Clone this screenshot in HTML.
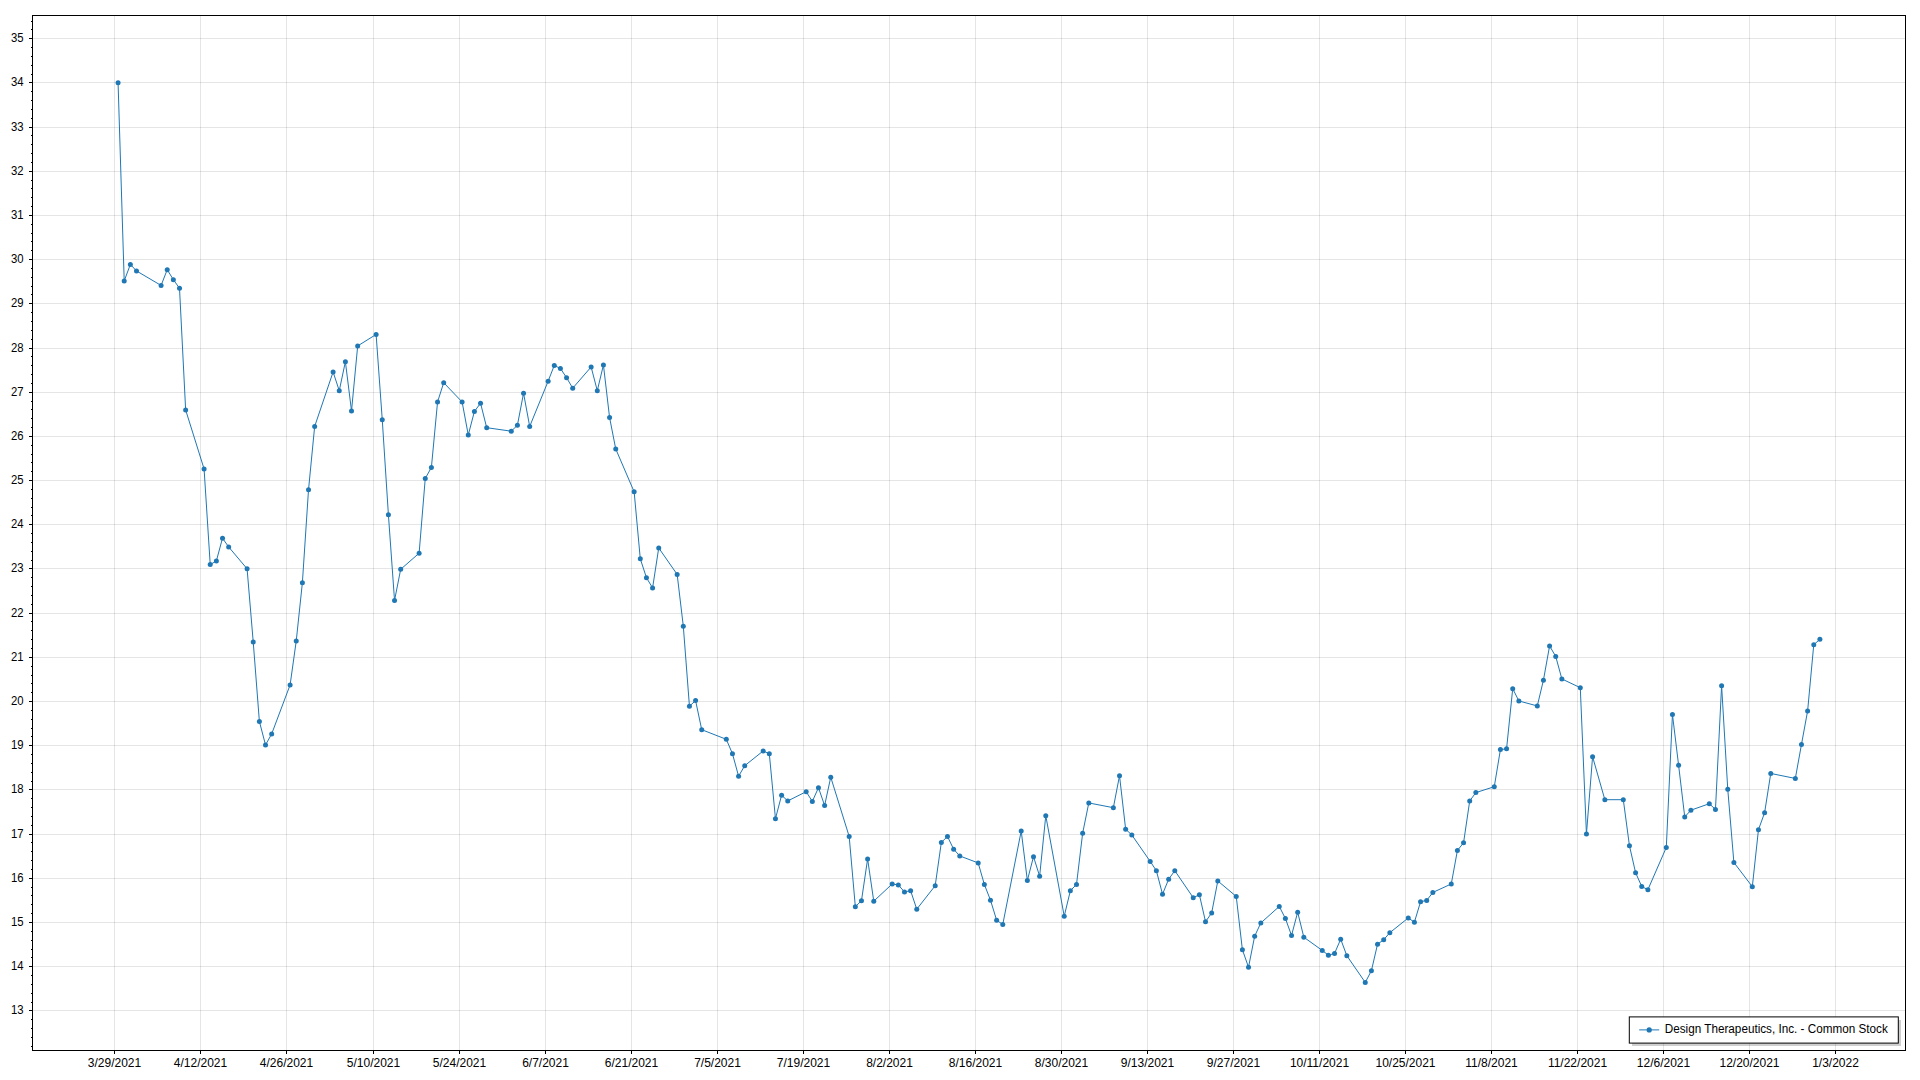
<!DOCTYPE html>
<html><head><meta charset="utf-8"><title>Design Therapeutics, Inc. - Common Stock</title>
<style>html,body{margin:0;padding:0;background:#fff;width:1920px;height:1080px;overflow:hidden}</style></head>
<body>
<svg width="1920" height="1080" viewBox="0 0 1920 1080" style="position:absolute;left:0;top:0;font-family:'Liberation Sans',sans-serif;font-size:12px">
<rect x="0" y="0" width="1920" height="1080" fill="#fff"/>
<g shape-rendering="crispEdges" fill="#000" fill-opacity="0.10">
<rect x="114" y="16" width="1" height="1034"/>
<rect x="200" y="16" width="1" height="1034"/>
<rect x="286" y="16" width="1" height="1034"/>
<rect x="373" y="16" width="1" height="1034"/>
<rect x="459" y="16" width="1" height="1034"/>
<rect x="545" y="16" width="1" height="1034"/>
<rect x="631" y="16" width="1" height="1034"/>
<rect x="717" y="16" width="1" height="1034"/>
<rect x="803" y="16" width="1" height="1034"/>
<rect x="889" y="16" width="1" height="1034"/>
<rect x="975" y="16" width="1" height="1034"/>
<rect x="1061" y="16" width="1" height="1034"/>
<rect x="1147" y="16" width="1" height="1034"/>
<rect x="1233" y="16" width="1" height="1034"/>
<rect x="1319" y="16" width="1" height="1034"/>
<rect x="1405" y="16" width="1" height="1034"/>
<rect x="1491" y="16" width="1" height="1034"/>
<rect x="1577" y="16" width="1" height="1034"/>
<rect x="1663" y="16" width="1" height="1034"/>
<rect x="1749" y="16" width="1" height="1034"/>
<rect x="1835" y="16" width="1" height="1034"/>
<rect x="33" y="1010" width="1872" height="1"/>
<rect x="33" y="966" width="1872" height="1"/>
<rect x="33" y="922" width="1872" height="1"/>
<rect x="33" y="878" width="1872" height="1"/>
<rect x="33" y="834" width="1872" height="1"/>
<rect x="33" y="789" width="1872" height="1"/>
<rect x="33" y="745" width="1872" height="1"/>
<rect x="33" y="701" width="1872" height="1"/>
<rect x="33" y="657" width="1872" height="1"/>
<rect x="33" y="613" width="1872" height="1"/>
<rect x="33" y="568" width="1872" height="1"/>
<rect x="33" y="524" width="1872" height="1"/>
<rect x="33" y="480" width="1872" height="1"/>
<rect x="33" y="436" width="1872" height="1"/>
<rect x="33" y="392" width="1872" height="1"/>
<rect x="33" y="348" width="1872" height="1"/>
<rect x="33" y="303" width="1872" height="1"/>
<rect x="33" y="259" width="1872" height="1"/>
<rect x="33" y="215" width="1872" height="1"/>
<rect x="33" y="171" width="1872" height="1"/>
<rect x="33" y="127" width="1872" height="1"/>
<rect x="33" y="82" width="1872" height="1"/>
<rect x="33" y="38" width="1872" height="1"/>
</g>
<polyline points="118.07,82.7 124.21,280.95 130.36,264.45 136.5,270.95 161.08,285.45 167.22,269.7 173.36,279.7 179.51,288.2 185.65,409.95 204.08,468.95 210.23,564.6 216.37,560.95 222.51,538.2 228.66,546.95 247.09,568.8 253.23,641.95 259.38,721.45 265.52,744.95 271.66,733.95 290.1,684.95 296.24,640.95 302.38,582.7 308.53,489.7 314.67,426.45 333.1,371.95 339.25,390.7 345.39,361.7 351.53,410.95 357.68,345.95 376.11,334.45 382.25,419.7 388.4,514.7 394.54,600.45 400.68,569.3 419.12,553.2 425.26,478.45 431.4,467.45 437.55,401.95 443.69,382.7 462.12,401.95 468.27,434.95 474.41,411.45 480.55,403.2 486.7,427.7 511.27,431.2 517.42,425.2 523.56,393.2 529.7,426.45 548.14,381.2 554.28,365.45 560.42,368.45 566.57,377.7 572.71,388.2 591.14,366.95 597.29,390.7 603.43,364.95 609.57,417.45 615.72,448.95 634.15,491.8 640.29,558.8 646.44,577.7 652.58,587.95 658.72,547.95 677.16,574.45 683.3,626.2 689.44,706.2 695.59,700.6 701.73,729.7 726.31,739.3 732.45,753.7 738.59,776.2 744.74,765.7 763.17,750.95 769.31,753.7 775.46,818.7 781.6,795.2 787.74,800.95 806.18,791.7 812.32,801.45 818.46,787.7 824.61,805.45 830.75,777.2 849.18,836.45 855.33,906.7 861.47,900.7 867.61,858.95 873.76,901.2 892.19,883.95 898.33,884.95 904.48,891.95 910.62,890.7 916.76,909.2 935.2,885.7 941.34,842.45 947.48,836.45 953.63,849.2 959.77,855.95 978.2,862.95 984.35,884.45 990.49,900.2 996.63,920.2 1002.78,924.45 1021.21,830.95 1027.35,880.45 1033.5,856.7 1039.64,876.2 1045.78,815.7 1064.22,916.2 1070.36,890.7 1076.5,884.45 1082.65,833.2 1088.79,802.95 1113.37,807.7 1119.51,775.7 1125.65,829.2 1131.8,834.95 1150.23,861.45 1156.37,870.7 1162.52,894.2 1168.66,879.2 1174.8,870.7 1193.23,897.7 1199.38,894.7 1205.52,921.7 1211.67,912.95 1217.81,880.95 1236.24,896.45 1242.39,949.7 1248.53,967.2 1254.67,936.2 1260.82,922.95 1279.25,906.45 1285.39,918.45 1291.54,935.45 1297.68,912.2 1303.82,937.2 1322.25,950.45 1328.4,955.2 1334.54,953.45 1340.69,939.2 1346.83,955.7 1365.26,982.45 1371.41,970.7 1377.55,944.2 1383.69,939.7 1389.84,932.7 1408.27,917.95 1414.41,922.2 1420.56,901.7 1426.7,900.45 1432.84,892.45 1451.27,883.95 1457.42,850.45 1463.56,842.8 1469.71,800.95 1475.85,792.6 1494.28,786.7 1500.42,749.6 1506.57,748.8 1512.71,688.7 1518.86,700.95 1537.29,705.95 1543.43,680.2 1549.58,645.95 1555.72,656.45 1561.86,678.95 1580.29,687.7 1586.44,834.1 1592.58,756.7 1604.87,799.7 1623.3,799.7 1629.44,845.7 1635.59,872.7 1641.73,886.45 1647.88,889.7 1666.31,847.45 1672.45,714.45 1678.6,765.2 1684.74,816.95 1690.88,810.2 1709.31,803.7 1715.46,809.45 1721.6,685.7 1727.75,789.2 1733.89,862.45 1752.32,886.7 1758.46,829.7 1764.61,812.7 1770.75,773.45 1795.33,778.45 1801.47,744.45 1807.61,710.95 1813.76,644.7 1819.9,639.3" fill="none" stroke="#1f77b4" stroke-width="1" stroke-linejoin="round"/>
<g fill="#1f77b4">
<circle cx="118.07" cy="82.7" r="2.5"/>
<circle cx="124.21" cy="280.95" r="2.5"/>
<circle cx="130.36" cy="264.45" r="2.5"/>
<circle cx="136.5" cy="270.95" r="2.5"/>
<circle cx="161.08" cy="285.45" r="2.5"/>
<circle cx="167.22" cy="269.7" r="2.5"/>
<circle cx="173.36" cy="279.7" r="2.5"/>
<circle cx="179.51" cy="288.2" r="2.5"/>
<circle cx="185.65" cy="409.95" r="2.5"/>
<circle cx="204.08" cy="468.95" r="2.5"/>
<circle cx="210.23" cy="564.6" r="2.5"/>
<circle cx="216.37" cy="560.95" r="2.5"/>
<circle cx="222.51" cy="538.2" r="2.5"/>
<circle cx="228.66" cy="546.95" r="2.5"/>
<circle cx="247.09" cy="568.8" r="2.5"/>
<circle cx="253.23" cy="641.95" r="2.5"/>
<circle cx="259.38" cy="721.45" r="2.5"/>
<circle cx="265.52" cy="744.95" r="2.5"/>
<circle cx="271.66" cy="733.95" r="2.5"/>
<circle cx="290.1" cy="684.95" r="2.5"/>
<circle cx="296.24" cy="640.95" r="2.5"/>
<circle cx="302.38" cy="582.7" r="2.5"/>
<circle cx="308.53" cy="489.7" r="2.5"/>
<circle cx="314.67" cy="426.45" r="2.5"/>
<circle cx="333.1" cy="371.95" r="2.5"/>
<circle cx="339.25" cy="390.7" r="2.5"/>
<circle cx="345.39" cy="361.7" r="2.5"/>
<circle cx="351.53" cy="410.95" r="2.5"/>
<circle cx="357.68" cy="345.95" r="2.5"/>
<circle cx="376.11" cy="334.45" r="2.5"/>
<circle cx="382.25" cy="419.7" r="2.5"/>
<circle cx="388.4" cy="514.7" r="2.5"/>
<circle cx="394.54" cy="600.45" r="2.5"/>
<circle cx="400.68" cy="569.3" r="2.5"/>
<circle cx="419.12" cy="553.2" r="2.5"/>
<circle cx="425.26" cy="478.45" r="2.5"/>
<circle cx="431.4" cy="467.45" r="2.5"/>
<circle cx="437.55" cy="401.95" r="2.5"/>
<circle cx="443.69" cy="382.7" r="2.5"/>
<circle cx="462.12" cy="401.95" r="2.5"/>
<circle cx="468.27" cy="434.95" r="2.5"/>
<circle cx="474.41" cy="411.45" r="2.5"/>
<circle cx="480.55" cy="403.2" r="2.5"/>
<circle cx="486.7" cy="427.7" r="2.5"/>
<circle cx="511.27" cy="431.2" r="2.5"/>
<circle cx="517.42" cy="425.2" r="2.5"/>
<circle cx="523.56" cy="393.2" r="2.5"/>
<circle cx="529.7" cy="426.45" r="2.5"/>
<circle cx="548.14" cy="381.2" r="2.5"/>
<circle cx="554.28" cy="365.45" r="2.5"/>
<circle cx="560.42" cy="368.45" r="2.5"/>
<circle cx="566.57" cy="377.7" r="2.5"/>
<circle cx="572.71" cy="388.2" r="2.5"/>
<circle cx="591.14" cy="366.95" r="2.5"/>
<circle cx="597.29" cy="390.7" r="2.5"/>
<circle cx="603.43" cy="364.95" r="2.5"/>
<circle cx="609.57" cy="417.45" r="2.5"/>
<circle cx="615.72" cy="448.95" r="2.5"/>
<circle cx="634.15" cy="491.8" r="2.5"/>
<circle cx="640.29" cy="558.8" r="2.5"/>
<circle cx="646.44" cy="577.7" r="2.5"/>
<circle cx="652.58" cy="587.95" r="2.5"/>
<circle cx="658.72" cy="547.95" r="2.5"/>
<circle cx="677.16" cy="574.45" r="2.5"/>
<circle cx="683.3" cy="626.2" r="2.5"/>
<circle cx="689.44" cy="706.2" r="2.5"/>
<circle cx="695.59" cy="700.6" r="2.5"/>
<circle cx="701.73" cy="729.7" r="2.5"/>
<circle cx="726.31" cy="739.3" r="2.5"/>
<circle cx="732.45" cy="753.7" r="2.5"/>
<circle cx="738.59" cy="776.2" r="2.5"/>
<circle cx="744.74" cy="765.7" r="2.5"/>
<circle cx="763.17" cy="750.95" r="2.5"/>
<circle cx="769.31" cy="753.7" r="2.5"/>
<circle cx="775.46" cy="818.7" r="2.5"/>
<circle cx="781.6" cy="795.2" r="2.5"/>
<circle cx="787.74" cy="800.95" r="2.5"/>
<circle cx="806.18" cy="791.7" r="2.5"/>
<circle cx="812.32" cy="801.45" r="2.5"/>
<circle cx="818.46" cy="787.7" r="2.5"/>
<circle cx="824.61" cy="805.45" r="2.5"/>
<circle cx="830.75" cy="777.2" r="2.5"/>
<circle cx="849.18" cy="836.45" r="2.5"/>
<circle cx="855.33" cy="906.7" r="2.5"/>
<circle cx="861.47" cy="900.7" r="2.5"/>
<circle cx="867.61" cy="858.95" r="2.5"/>
<circle cx="873.76" cy="901.2" r="2.5"/>
<circle cx="892.19" cy="883.95" r="2.5"/>
<circle cx="898.33" cy="884.95" r="2.5"/>
<circle cx="904.48" cy="891.95" r="2.5"/>
<circle cx="910.62" cy="890.7" r="2.5"/>
<circle cx="916.76" cy="909.2" r="2.5"/>
<circle cx="935.2" cy="885.7" r="2.5"/>
<circle cx="941.34" cy="842.45" r="2.5"/>
<circle cx="947.48" cy="836.45" r="2.5"/>
<circle cx="953.63" cy="849.2" r="2.5"/>
<circle cx="959.77" cy="855.95" r="2.5"/>
<circle cx="978.2" cy="862.95" r="2.5"/>
<circle cx="984.35" cy="884.45" r="2.5"/>
<circle cx="990.49" cy="900.2" r="2.5"/>
<circle cx="996.63" cy="920.2" r="2.5"/>
<circle cx="1002.78" cy="924.45" r="2.5"/>
<circle cx="1021.21" cy="830.95" r="2.5"/>
<circle cx="1027.35" cy="880.45" r="2.5"/>
<circle cx="1033.5" cy="856.7" r="2.5"/>
<circle cx="1039.64" cy="876.2" r="2.5"/>
<circle cx="1045.78" cy="815.7" r="2.5"/>
<circle cx="1064.22" cy="916.2" r="2.5"/>
<circle cx="1070.36" cy="890.7" r="2.5"/>
<circle cx="1076.5" cy="884.45" r="2.5"/>
<circle cx="1082.65" cy="833.2" r="2.5"/>
<circle cx="1088.79" cy="802.95" r="2.5"/>
<circle cx="1113.37" cy="807.7" r="2.5"/>
<circle cx="1119.51" cy="775.7" r="2.5"/>
<circle cx="1125.65" cy="829.2" r="2.5"/>
<circle cx="1131.8" cy="834.95" r="2.5"/>
<circle cx="1150.23" cy="861.45" r="2.5"/>
<circle cx="1156.37" cy="870.7" r="2.5"/>
<circle cx="1162.52" cy="894.2" r="2.5"/>
<circle cx="1168.66" cy="879.2" r="2.5"/>
<circle cx="1174.8" cy="870.7" r="2.5"/>
<circle cx="1193.23" cy="897.7" r="2.5"/>
<circle cx="1199.38" cy="894.7" r="2.5"/>
<circle cx="1205.52" cy="921.7" r="2.5"/>
<circle cx="1211.67" cy="912.95" r="2.5"/>
<circle cx="1217.81" cy="880.95" r="2.5"/>
<circle cx="1236.24" cy="896.45" r="2.5"/>
<circle cx="1242.39" cy="949.7" r="2.5"/>
<circle cx="1248.53" cy="967.2" r="2.5"/>
<circle cx="1254.67" cy="936.2" r="2.5"/>
<circle cx="1260.82" cy="922.95" r="2.5"/>
<circle cx="1279.25" cy="906.45" r="2.5"/>
<circle cx="1285.39" cy="918.45" r="2.5"/>
<circle cx="1291.54" cy="935.45" r="2.5"/>
<circle cx="1297.68" cy="912.2" r="2.5"/>
<circle cx="1303.82" cy="937.2" r="2.5"/>
<circle cx="1322.25" cy="950.45" r="2.5"/>
<circle cx="1328.4" cy="955.2" r="2.5"/>
<circle cx="1334.54" cy="953.45" r="2.5"/>
<circle cx="1340.69" cy="939.2" r="2.5"/>
<circle cx="1346.83" cy="955.7" r="2.5"/>
<circle cx="1365.26" cy="982.45" r="2.5"/>
<circle cx="1371.41" cy="970.7" r="2.5"/>
<circle cx="1377.55" cy="944.2" r="2.5"/>
<circle cx="1383.69" cy="939.7" r="2.5"/>
<circle cx="1389.84" cy="932.7" r="2.5"/>
<circle cx="1408.27" cy="917.95" r="2.5"/>
<circle cx="1414.41" cy="922.2" r="2.5"/>
<circle cx="1420.56" cy="901.7" r="2.5"/>
<circle cx="1426.7" cy="900.45" r="2.5"/>
<circle cx="1432.84" cy="892.45" r="2.5"/>
<circle cx="1451.27" cy="883.95" r="2.5"/>
<circle cx="1457.42" cy="850.45" r="2.5"/>
<circle cx="1463.56" cy="842.8" r="2.5"/>
<circle cx="1469.71" cy="800.95" r="2.5"/>
<circle cx="1475.85" cy="792.6" r="2.5"/>
<circle cx="1494.28" cy="786.7" r="2.5"/>
<circle cx="1500.42" cy="749.6" r="2.5"/>
<circle cx="1506.57" cy="748.8" r="2.5"/>
<circle cx="1512.71" cy="688.7" r="2.5"/>
<circle cx="1518.86" cy="700.95" r="2.5"/>
<circle cx="1537.29" cy="705.95" r="2.5"/>
<circle cx="1543.43" cy="680.2" r="2.5"/>
<circle cx="1549.58" cy="645.95" r="2.5"/>
<circle cx="1555.72" cy="656.45" r="2.5"/>
<circle cx="1561.86" cy="678.95" r="2.5"/>
<circle cx="1580.29" cy="687.7" r="2.5"/>
<circle cx="1586.44" cy="834.1" r="2.5"/>
<circle cx="1592.58" cy="756.7" r="2.5"/>
<circle cx="1604.87" cy="799.7" r="2.5"/>
<circle cx="1623.3" cy="799.7" r="2.5"/>
<circle cx="1629.44" cy="845.7" r="2.5"/>
<circle cx="1635.59" cy="872.7" r="2.5"/>
<circle cx="1641.73" cy="886.45" r="2.5"/>
<circle cx="1647.88" cy="889.7" r="2.5"/>
<circle cx="1666.31" cy="847.45" r="2.5"/>
<circle cx="1672.45" cy="714.45" r="2.5"/>
<circle cx="1678.6" cy="765.2" r="2.5"/>
<circle cx="1684.74" cy="816.95" r="2.5"/>
<circle cx="1690.88" cy="810.2" r="2.5"/>
<circle cx="1709.31" cy="803.7" r="2.5"/>
<circle cx="1715.46" cy="809.45" r="2.5"/>
<circle cx="1721.6" cy="685.7" r="2.5"/>
<circle cx="1727.75" cy="789.2" r="2.5"/>
<circle cx="1733.89" cy="862.45" r="2.5"/>
<circle cx="1752.32" cy="886.7" r="2.5"/>
<circle cx="1758.46" cy="829.7" r="2.5"/>
<circle cx="1764.61" cy="812.7" r="2.5"/>
<circle cx="1770.75" cy="773.45" r="2.5"/>
<circle cx="1795.33" cy="778.45" r="2.5"/>
<circle cx="1801.47" cy="744.45" r="2.5"/>
<circle cx="1807.61" cy="710.95" r="2.5"/>
<circle cx="1813.76" cy="644.7" r="2.5"/>
<circle cx="1819.9" cy="639.3" r="2.5"/>
</g>
<g shape-rendering="crispEdges" fill="#000">
<rect x="32" y="15" width="1874" height="1"/>
<rect x="32" y="1050" width="1874" height="1"/>
<rect x="32" y="15" width="1" height="1036"/>
<rect x="1905" y="15" width="1" height="1036"/>
<rect x="114" y="1051" width="1" height="3"/>
<rect x="200" y="1051" width="1" height="3"/>
<rect x="286" y="1051" width="1" height="3"/>
<rect x="373" y="1051" width="1" height="3"/>
<rect x="459" y="1051" width="1" height="3"/>
<rect x="545" y="1051" width="1" height="3"/>
<rect x="631" y="1051" width="1" height="3"/>
<rect x="717" y="1051" width="1" height="3"/>
<rect x="803" y="1051" width="1" height="3"/>
<rect x="889" y="1051" width="1" height="3"/>
<rect x="975" y="1051" width="1" height="3"/>
<rect x="1061" y="1051" width="1" height="3"/>
<rect x="1147" y="1051" width="1" height="3"/>
<rect x="1233" y="1051" width="1" height="3"/>
<rect x="1319" y="1051" width="1" height="3"/>
<rect x="1405" y="1051" width="1" height="3"/>
<rect x="1491" y="1051" width="1" height="3"/>
<rect x="1577" y="1051" width="1" height="3"/>
<rect x="1663" y="1051" width="1" height="3"/>
<rect x="1749" y="1051" width="1" height="3"/>
<rect x="1835" y="1051" width="1" height="3"/>
<rect x="29" y="1010" width="3" height="1"/>
<rect x="29" y="966" width="3" height="1"/>
<rect x="29" y="922" width="3" height="1"/>
<rect x="29" y="878" width="3" height="1"/>
<rect x="29" y="834" width="3" height="1"/>
<rect x="29" y="789" width="3" height="1"/>
<rect x="29" y="745" width="3" height="1"/>
<rect x="29" y="701" width="3" height="1"/>
<rect x="29" y="657" width="3" height="1"/>
<rect x="29" y="613" width="3" height="1"/>
<rect x="29" y="568" width="3" height="1"/>
<rect x="29" y="524" width="3" height="1"/>
<rect x="29" y="480" width="3" height="1"/>
<rect x="29" y="436" width="3" height="1"/>
<rect x="29" y="392" width="3" height="1"/>
<rect x="29" y="348" width="3" height="1"/>
<rect x="29" y="303" width="3" height="1"/>
<rect x="29" y="259" width="3" height="1"/>
<rect x="29" y="215" width="3" height="1"/>
<rect x="29" y="171" width="3" height="1"/>
<rect x="29" y="127" width="3" height="1"/>
<rect x="29" y="82" width="3" height="1"/>
<rect x="29" y="38" width="3" height="1"/>
<rect x="31" y="1046" width="1" height="1"/>
<rect x="31" y="1037" width="1" height="1"/>
<rect x="31" y="1028" width="1" height="1"/>
<rect x="31" y="1019" width="1" height="1"/>
<rect x="31" y="1002" width="1" height="1"/>
<rect x="31" y="993" width="1" height="1"/>
<rect x="31" y="984" width="1" height="1"/>
<rect x="31" y="975" width="1" height="1"/>
<rect x="31" y="957" width="1" height="1"/>
<rect x="31" y="949" width="1" height="1"/>
<rect x="31" y="940" width="1" height="1"/>
<rect x="31" y="931" width="1" height="1"/>
<rect x="31" y="913" width="1" height="1"/>
<rect x="31" y="904" width="1" height="1"/>
<rect x="31" y="895" width="1" height="1"/>
<rect x="31" y="887" width="1" height="1"/>
<rect x="31" y="869" width="1" height="1"/>
<rect x="31" y="860" width="1" height="1"/>
<rect x="31" y="851" width="1" height="1"/>
<rect x="31" y="842" width="1" height="1"/>
<rect x="31" y="825" width="1" height="1"/>
<rect x="31" y="816" width="1" height="1"/>
<rect x="31" y="807" width="1" height="1"/>
<rect x="31" y="798" width="1" height="1"/>
<rect x="31" y="781" width="1" height="1"/>
<rect x="31" y="772" width="1" height="1"/>
<rect x="31" y="763" width="1" height="1"/>
<rect x="31" y="754" width="1" height="1"/>
<rect x="31" y="736" width="1" height="1"/>
<rect x="31" y="728" width="1" height="1"/>
<rect x="31" y="719" width="1" height="1"/>
<rect x="31" y="710" width="1" height="1"/>
<rect x="31" y="692" width="1" height="1"/>
<rect x="31" y="683" width="1" height="1"/>
<rect x="31" y="675" width="1" height="1"/>
<rect x="31" y="666" width="1" height="1"/>
<rect x="31" y="648" width="1" height="1"/>
<rect x="31" y="639" width="1" height="1"/>
<rect x="31" y="630" width="1" height="1"/>
<rect x="31" y="621" width="1" height="1"/>
<rect x="31" y="604" width="1" height="1"/>
<rect x="31" y="595" width="1" height="1"/>
<rect x="31" y="586" width="1" height="1"/>
<rect x="31" y="577" width="1" height="1"/>
<rect x="31" y="560" width="1" height="1"/>
<rect x="31" y="551" width="1" height="1"/>
<rect x="31" y="542" width="1" height="1"/>
<rect x="31" y="533" width="1" height="1"/>
<rect x="31" y="515" width="1" height="1"/>
<rect x="31" y="507" width="1" height="1"/>
<rect x="31" y="498" width="1" height="1"/>
<rect x="31" y="489" width="1" height="1"/>
<rect x="31" y="471" width="1" height="1"/>
<rect x="31" y="462" width="1" height="1"/>
<rect x="31" y="454" width="1" height="1"/>
<rect x="31" y="445" width="1" height="1"/>
<rect x="31" y="427" width="1" height="1"/>
<rect x="31" y="418" width="1" height="1"/>
<rect x="31" y="409" width="1" height="1"/>
<rect x="31" y="401" width="1" height="1"/>
<rect x="31" y="383" width="1" height="1"/>
<rect x="31" y="374" width="1" height="1"/>
<rect x="31" y="365" width="1" height="1"/>
<rect x="31" y="356" width="1" height="1"/>
<rect x="31" y="339" width="1" height="1"/>
<rect x="31" y="330" width="1" height="1"/>
<rect x="31" y="321" width="1" height="1"/>
<rect x="31" y="312" width="1" height="1"/>
<rect x="31" y="294" width="1" height="1"/>
<rect x="31" y="286" width="1" height="1"/>
<rect x="31" y="277" width="1" height="1"/>
<rect x="31" y="268" width="1" height="1"/>
<rect x="31" y="250" width="1" height="1"/>
<rect x="31" y="241" width="1" height="1"/>
<rect x="31" y="233" width="1" height="1"/>
<rect x="31" y="224" width="1" height="1"/>
<rect x="31" y="206" width="1" height="1"/>
<rect x="31" y="197" width="1" height="1"/>
<rect x="31" y="188" width="1" height="1"/>
<rect x="31" y="180" width="1" height="1"/>
<rect x="31" y="162" width="1" height="1"/>
<rect x="31" y="153" width="1" height="1"/>
<rect x="31" y="144" width="1" height="1"/>
<rect x="31" y="135" width="1" height="1"/>
<rect x="31" y="118" width="1" height="1"/>
<rect x="31" y="109" width="1" height="1"/>
<rect x="31" y="100" width="1" height="1"/>
<rect x="31" y="91" width="1" height="1"/>
<rect x="31" y="74" width="1" height="1"/>
<rect x="31" y="65" width="1" height="1"/>
<rect x="31" y="56" width="1" height="1"/>
<rect x="31" y="47" width="1" height="1"/>
<rect x="31" y="29" width="1" height="1"/>
<rect x="31" y="21" width="1" height="1"/>
</g>
<g fill="#000" text-anchor="end">
<text x="23.6" y="1013.7" textLength="12.6" lengthAdjust="spacingAndGlyphs">13</text>
<text x="23.6" y="969.7" textLength="12.6" lengthAdjust="spacingAndGlyphs">14</text>
<text x="23.6" y="925.7" textLength="12.6" lengthAdjust="spacingAndGlyphs">15</text>
<text x="23.6" y="881.7" textLength="12.6" lengthAdjust="spacingAndGlyphs">16</text>
<text x="23.6" y="837.7" textLength="12.6" lengthAdjust="spacingAndGlyphs">17</text>
<text x="23.6" y="792.7" textLength="12.6" lengthAdjust="spacingAndGlyphs">18</text>
<text x="23.6" y="748.7" textLength="12.6" lengthAdjust="spacingAndGlyphs">19</text>
<text x="23.6" y="704.7" textLength="12.6" lengthAdjust="spacingAndGlyphs">20</text>
<text x="23.6" y="660.7" textLength="12.6" lengthAdjust="spacingAndGlyphs">21</text>
<text x="23.6" y="616.7" textLength="12.6" lengthAdjust="spacingAndGlyphs">22</text>
<text x="23.6" y="571.7" textLength="12.6" lengthAdjust="spacingAndGlyphs">23</text>
<text x="23.6" y="527.7" textLength="12.6" lengthAdjust="spacingAndGlyphs">24</text>
<text x="23.6" y="483.7" textLength="12.6" lengthAdjust="spacingAndGlyphs">25</text>
<text x="23.6" y="439.7" textLength="12.6" lengthAdjust="spacingAndGlyphs">26</text>
<text x="23.6" y="395.7" textLength="12.6" lengthAdjust="spacingAndGlyphs">27</text>
<text x="23.6" y="351.7" textLength="12.6" lengthAdjust="spacingAndGlyphs">28</text>
<text x="23.6" y="306.7" textLength="12.6" lengthAdjust="spacingAndGlyphs">29</text>
<text x="23.6" y="262.7" textLength="12.6" lengthAdjust="spacingAndGlyphs">30</text>
<text x="23.6" y="218.7" textLength="12.6" lengthAdjust="spacingAndGlyphs">31</text>
<text x="23.6" y="174.7" textLength="12.6" lengthAdjust="spacingAndGlyphs">32</text>
<text x="23.6" y="130.7" textLength="12.6" lengthAdjust="spacingAndGlyphs">33</text>
<text x="23.6" y="85.7" textLength="12.6" lengthAdjust="spacingAndGlyphs">34</text>
<text x="23.6" y="41.7" textLength="12.6" lengthAdjust="spacingAndGlyphs">35</text>
</g>
<g fill="#000" text-anchor="middle">
<text x="114.5" y="1067">3/29/2021</text>
<text x="200.5" y="1067">4/12/2021</text>
<text x="286.5" y="1067">4/26/2021</text>
<text x="373.5" y="1067">5/10/2021</text>
<text x="459.5" y="1067">5/24/2021</text>
<text x="545.5" y="1067">6/7/2021</text>
<text x="631.5" y="1067">6/21/2021</text>
<text x="717.5" y="1067">7/5/2021</text>
<text x="803.5" y="1067">7/19/2021</text>
<text x="889.5" y="1067">8/2/2021</text>
<text x="975.5" y="1067">8/16/2021</text>
<text x="1061.5" y="1067">8/30/2021</text>
<text x="1147.5" y="1067">9/13/2021</text>
<text x="1233.5" y="1067">9/27/2021</text>
<text x="1319.5" y="1067">10/11/2021</text>
<text x="1405.5" y="1067">10/25/2021</text>
<text x="1491.5" y="1067">11/8/2021</text>
<text x="1577.5" y="1067">11/22/2021</text>
<text x="1663.5" y="1067">12/6/2021</text>
<text x="1749.5" y="1067">12/20/2021</text>
<text x="1835.5" y="1067">1/3/2022</text>
</g>
<rect x="1632" y="1020" width="269" height="26" fill="#000" fill-opacity="0.19" shape-rendering="crispEdges"/>
<rect x="1629.3" y="1016.9" width="269" height="26.2" fill="#fff" stroke="#000" stroke-width="1"/>
<line x1="1639.2" y1="1029.9" x2="1659.2" y2="1029.9" stroke="#1f77b4" stroke-width="1"/>
<circle cx="1649.2" cy="1029.9" r="2.6" fill="#1f77b4"/>
<text x="1664.8" y="1033" fill="#000" textLength="223" lengthAdjust="spacingAndGlyphs">Design Therapeutics, Inc. - Common Stock</text>
</svg>
</body></html>
